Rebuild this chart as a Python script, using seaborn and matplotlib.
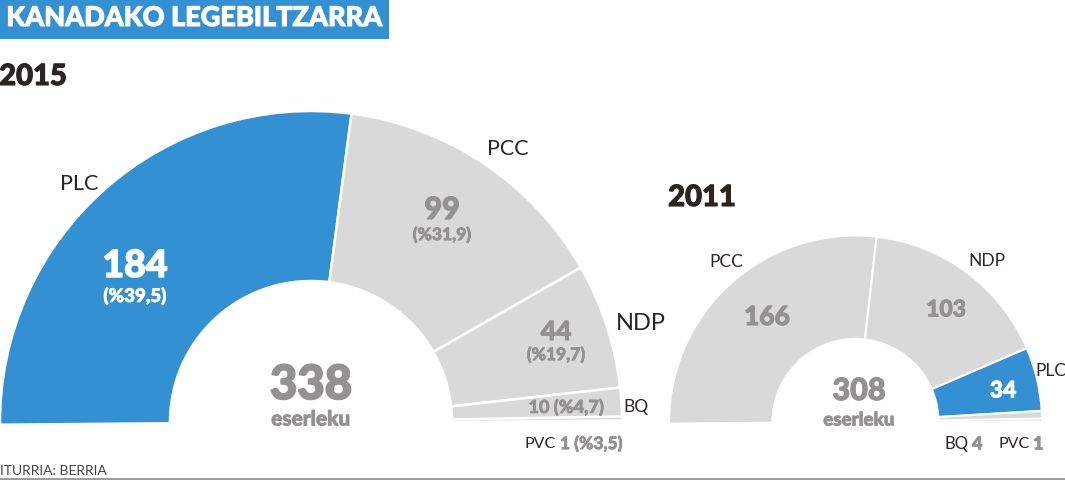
import matplotlib
matplotlib.use("Agg")
import matplotlib.pyplot as plt
import matplotlib.patheffects as pe
from matplotlib.patches import Rectangle
import seaborn as sns

# data
parties_2015 = ["PLC", "PCC", "NDP", "BQ", "PVC"]
seats_2015 = [184, 99, 44, 10, 1]
parties_2011 = ["PCC", "NDP", "PLC", "BQ", "PVC"]
seats_2011 = [166, 103, 34, 4, 1]

BLUE = "#3390d2"
GREY = "#d9d9d9"
LABEL = "#949291"
DARK = "#2b2521"
W, H = 1065, 480

sns.set_theme(style="white")
plt.rcParams["font.family"] = ["Lato", "DejaVu Sans"]


def hemicycle(fig, parties, seats, cx, cy, r, r_in, lw):
    # half pie, the bottom half is a hidden wedge and the axes clip at the baseline
    ax = fig.add_axes([(cx - r) / W, 1 - cy / H, 2 * r / W, r / H])
    colors = [BLUE if p == "PLC" else GREY for p in parties] + ["white"]
    wedges, _ = ax.pie(seats + [sum(seats)], colors=colors, startangle=180.5, counterclock=False,
                       radius=1, wedgeprops=dict(width=1 - r_in / r, edgecolor="white", linewidth=lw))
    wedges[-1].set_visible(False)
    # one seat is only a sliver, keep it without an edge and under its neighbour
    wedges[-2].set_linewidth(0)
    wedges[-3].set_zorder(wedges[-2].get_zorder() + 1)
    ax.set_xlim(-1, 1)
    ax.set_ylim(0, 1)
    ax.axis("off")
    return ax


def put(x, y, s, size, color=DARK, heavy=False, ha="center"):
    t = fig.text(x / W, 1 - y / H, s, fontsize=size, color=color,
                 fontweight="black" if heavy else "normal", ha=ha, va="center")
    if heavy:
        t.set_path_effects([pe.withStroke(linewidth=size / 26, foreground=color)])


fig = plt.figure(figsize=(W / 100, H / 100), dpi=100, facecolor="white")

hemicycle(fig, parties_2015, seats_2015, 311, 422, 311, 141, 1.8)
hemicycle(fig, parties_2011, seats_2011, 855.5, 422, 186.5, 83, 1.5)

# header
fig.patches.append(Rectangle((0, 1 - 39 / H), 389 / W, 39 / H, transform=fig.transFigure, color=BLUE, lw=0))
put(194, 18, "KANADAKO LEGEBILTZARRA", 19.5, "white", True)
put(33, 77, "2015", 21, DARK, True)
put(702, 198, "2011", 21, DARK, True)

# 2015 labels
put(79, 184, "PLC", 15.5)
put(135, 266, str(seats_2015[0]), 27, "white", True)
put(135, 296, "(%39,5)", 13.5, "white", True)
put(508, 149, "PCC", 15.5)
put(442, 210, str(seats_2015[1]), 22, LABEL, True)
put(442, 235, "(%31,9)", 12.5, LABEL, True)
put(641, 323, "NDP", 17)
put(556, 332, str(seats_2015[2]), 19, LABEL, True)
put(556, 355, "(%19,7)", 12.5, LABEL, True)
put(636, 407, "BQ", 12.5)
put(566, 407, "10 (%4,7)", 13, LABEL, True)
put(525, 444, "PVC", 11.5, ha="left")
put(560, 444, "1 (%3,5)", 12.5, LABEL, True, ha="left")
put(311, 385, "338", 34, LABEL, True)
put(311, 419, "eserleku", 15, LABEL, True)

# 2011 labels
put(726, 262, "PCC", 12.5)
put(767, 317, str(seats_2011[0]), 19, LABEL, True)
put(987, 261, "NDP", 12.5)
put(946, 310, str(seats_2011[1]), 16.5, LABEL, True)
put(1051, 371, "PLC", 12.5)
put(1003, 391, str(seats_2011[2]), 16.5, "white", True)
put(859, 391, "308", 22, LABEL, True)
put(859, 420, "eserleku", 13.5, LABEL, True)
put(944, 444, "BQ", 12, ha="left")
put(972, 444, "4", 13, LABEL, True, ha="left")
put(999, 444, "PVC", 11.5, ha="left")
put(1033, 444, "1", 13, LABEL, True, ha="left")

# source and bottom rule
put(0, 471, "ITURRIA: BERRIA", 10, "#444444", ha="left")
fig.add_artist(plt.Line2D([0, 1], [1 - 479 / H, 1 - 479 / H], color="#8a8a8a", lw=1.2))

fig.savefig("out.png", dpi=100)
